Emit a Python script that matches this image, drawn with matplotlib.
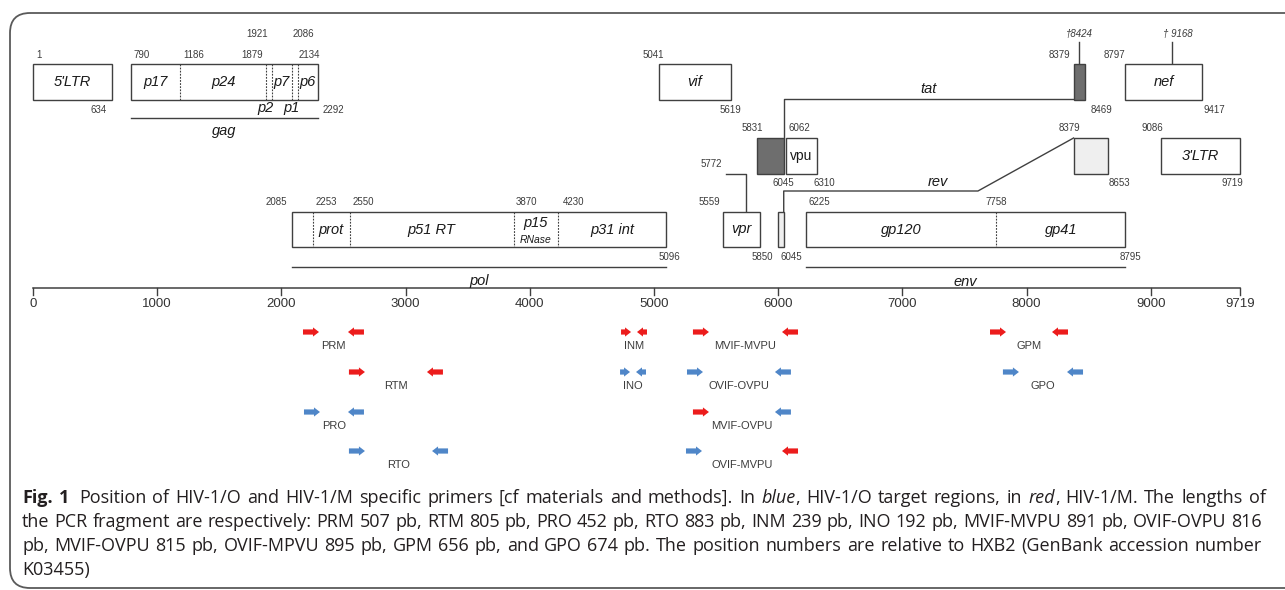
import matplotlib
matplotlib.use("Agg")
import matplotlib.pyplot as plt
from matplotlib.patches import Rectangle, Polygon, FancyBboxPatch

# ------------------------------------------------------------------ data
GENOME_LEN = 9719
axis_ticks = [0, 1000, 2000, 3000, 4000, 5000, 6000, 7000, 8000, 9000, 9719]

box_names = ["5'LTR", "gag", "vif", "tat2", "nef", "tat1", "vpu", "rev2", "3'LTR",
             "pol", "vpr", "rev1", "env"]
box_start = [1, 790, 5041, 8379, 8797, 5831, 6062, 8379, 9086, 2085, 5559, 6000, 6225]
box_end = [634, 2292, 5619, 8469, 9417, 6045, 6310, 8653, 9719, 5096, 5850, 6045, 8795]
box_row = [0, 0, 0, 0, 0, 1, 1, 1, 1, 2, 2, 2, 2]

gag_cuts = [1186, 1879, 1921, 2086, 2134]
pol_cuts = [2253, 2550, 3870, 4230]
env_cuts = [7758]

gag_parts = ["p17", "p24", "p7", "p6"]
gag_part_bounds = [(790, 1186), (1186, 1879), (1921, 2086), (2134, 2292)]
pol_parts = ["prot", "p51 RT", "p15", "p31 int"]
pol_part_bounds = [(2253, 2550), (2550, 3870), (3870, 4230), (4230, 5096)]
env_parts = ["gp120", "gp41"]
env_part_bounds = [(6225, 7758), (7758, 8795)]

stop_codons = [8424, 9168]
stop_labels = ["\u20208424", "\u2020 9168"]

primer_names = ["PRM", "RTM", "PRO", "RTO", "INM", "INO",
                "MVIF-MVPU", "OVIF-OVPU", "MVIF-OVPU", "OVIF-MVPU", "GPM", "GPO"]
primer_fwd_start = [2174, 2544, 2182, 2544, 4735, 4727, 5314, 5266, 5314, 5258, 7706, 7810]
primer_rev_end = [2665, 3301, 2665, 3342, 4944, 4936, 6160, 6103, 6103, 6160, 8334, 8455]
primer_fwd_type = ["M", "M", "O", "O", "M", "O", "M", "O", "M", "O", "M", "O"]
primer_rev_type = ["M", "M", "O", "O", "M", "O", "M", "O", "O", "M", "M", "O"]
primer_row = [0, 1, 2, 3, 0, 1, 0, 1, 2, 3, 0, 1]

# ------------------------------------------------------------------ style
W, H = 1285, 590
s = 1207.0 / 9719.0          # pixels per base
P = 1.0 / s                  # bases per pixel
LINE = "#404040"
NUMC = "#3c3c3c"
TXT = "#1a1a1a"
RED = "#ec1c1c"
BLUE = "#4f86c8"
type_color = {"M": RED, "O": BLUE}
row_y = [(64, 100), (138, 174), (212, 247)]
fills = {"tat1": "#6e6e6e", "tat2": "#6e6e6e", "rev1": "#efefef", "rev2": "#efefef"}
NUMFONT = "Liberation Sans"

fig = plt.figure(figsize=(W / 100, H / 100), dpi=100)
bg = fig.add_axes([0, 0, 1, 1])
bg.set_xlim(0, W)
bg.set_ylim(H, 0)
bg.axis("off")
ax = fig.add_axes([0, 0, 1, 1])
ax.patch.set_alpha(0)
ax.set_xlim(-33 * P, (W - 33) * P)
ax.set_ylim(H, 0)
ax.axis("off")

# outer rounded frame
bg.add_patch(FancyBboxPatch((10, 13), 1320, 575, boxstyle="round,pad=0,rounding_size=20",
                            fill=False, ec="#5a5a5a", lw=1.3, clip_on=False))

# ------------------------------------------------------------------ boxes
for name, a, b, r in zip(box_names, box_start, box_end, box_row):
    y0, y1 = row_y[r]
    ax.add_patch(Rectangle((a, y0), b - a, y1 - y0, fc=fills.get(name, "white"),
                           ec=LINE, lw=1.0, zorder=3))
    yc = (y0 + y1) / 2
    if name in ("5'LTR", "3'LTR", "vif", "nef", "vpr"):
        ax.text((a + b) / 2, yc, name, ha="center", va="center", fontsize=10.5,
                style="italic", family="Liberation Sans", color=TXT, zorder=4)
    elif name == "vpu":
        ax.text((a + b) / 2, yc, name, ha="center", va="center", fontsize=10,
                family="Liberation Sans", color=TXT, zorder=4)

dash = dict(color=LINE, lw=0.8, ls=(0, (1.6, 1.2)), zorder=4)
for c in gag_cuts:
    ax.plot([c, c], row_y[0], **dash)
for c in pol_cuts:
    ax.plot([c, c], row_y[2], **dash)
for c in env_cuts:
    ax.plot([c, c], row_y[2], **dash)

it = dict(ha="center", va="center", style="italic", family="Liberation Sans", color=TXT, zorder=4)
for t, (a, b) in zip(gag_parts, gag_part_bounds):
    ax.text((a + b) / 2, 82, t, fontsize=10.5, **it)
for t, (a, b) in zip(pol_parts, pol_part_bounds):
    if t == "p15":
        ax.text((a + b) / 2, 223, t, fontsize=10.5, **it)
        ax.text((a + b) / 2, 240, "RNase", fontsize=7.5, **it)
    else:
        ax.text((a + b) / 2, 230, t, fontsize=10.5, **it)
for t, (a, b) in zip(env_parts, env_part_bounds):
    ax.text((a + b) / 2, 230, t, fontsize=10.5, **it)

# p2 / p1 under gag
ax.text((1879 + 1921) / 2 - 3 * P, 108, "p2", fontsize=10.5, **it)
ax.text((2086 + 2134) / 2 - 4 * P, 108, "p1", fontsize=10.5, **it)

# polyprotein underlines
lk = dict(color=LINE, lw=1.0)
ax.plot([790, 2292], [118, 118], **lk)
ax.text((790 + 2292) / 2, 131, "gag", fontsize=10.5, **it)
ax.plot([2085, 5096], [267, 267], **lk)
ax.text((2085 + 5096) / 2, 281, "pol", fontsize=10.5, **it)
ax.plot([6225, 8795], [267, 267], **lk)
ax.text((6225 + 8795) / 2, 282, "env", fontsize=10.5, **it)

# tat splice connector
ax.plot([6045, 6045, 8379], [138, 99, 99], **lk)
ax.text((6045 + 8379) / 2, 89, "tat", fontsize=10.5, **it)
# rev splice connector
ax.plot([6045, 6045, 7609, 8379], [212, 191, 191, 138], **lk)
ax.text(7287, 182, "rev", fontsize=10.5, **it)
# vpr connector
ax.plot([5580, 5741, 5741], [174, 174, 212], **lk)

# stop codons
for pos, lab, dx in zip(stop_codons, stop_labels, [0, 6]):
    ax.plot([pos, pos], [64, 42], **lk)
    ax.text(pos + dx * P, 34, lab, ha="center", va="center", fontsize=7,
            style="italic", family=NUMFONT, color=NUMC)

# position numbers
pos_labels = [
    ("1", 1, 55, 3, "left"), ("634", 634, 110, -5, "right"),
    ("790", 790, 55, 2, "left"), ("1186", 1186, 55, 3, "left"),
    ("1879", 1879, 55, -3, "right"), ("1921", 1921, 34, -4, "right"),
    ("2086", 2086, 34, 1, "left"), ("2134", 2134, 55, 1, "left"),
    ("2292", 2292, 110, 5, "left"), ("5041", 5041, 55, -6, "center"),
    ("5619", 5619, 110, 0, "center"), ("8379", 8379, 55, -3, "right"),
    ("8469", 8469, 110, 6, "left"), ("8797", 8797, 55, 0, "right"),
    ("9417", 9417, 110, 1, "left"), ("5831", 5831, 128, -5, "center"),
    ("6062", 6062, 128, 3, "left"), ("8379", 8379, 128, -4, "center"),
    ("9086", 9086, 128, -9, "center"), ("6045", 6045, 183, 0, "center"),
    ("6310", 6310, 183, 8, "center"), ("8653", 8653, 183, 12, "center"),
    ("9719", 9719, 183, -8, "center"), ("2085", 2085, 202, -5, "right"),
    ("2253", 2253, 202, 3, "left"), ("2550", 2550, 202, 3, "left"),
    ("3870", 3870, 202, 2, "left"), ("4230", 4230, 202, 4, "left"),
    ("5096", 5096, 257, 4, "center"), ("5772", 5772, 164, -28, "right"),
    ("5559", 5559, 202, -3, "right"), ("5850", 5850, 257, 3, "center"),
    ("6045", 6045, 257, -3, "left"), ("6225", 6225, 202, 2, "left"),
    ("7758", 7758, 202, 0, "center"), ("8795", 8795, 257, 5, "center"),
]
for t, v, y, dx, ha in pos_labels:
    ax.text(v + dx * P, y, t, ha=ha, va="center", fontsize=7, family=NUMFONT, color=NUMC)

# ------------------------------------------------------------------ scale axis
AY = 288
ax.plot([0, GENOME_LEN], [AY, AY], color=LINE, lw=1.1)
for t in axis_ticks:
    ax.plot([t, t], [AY, AY + 7], color=LINE, lw=1.0)
    ax.text(t, 304, str(t), ha="center", va="center", fontsize=9.5,
            family="Liberation Sans", color="#333333")

# ------------------------------------------------------------------ primers
prow_y = [332, 372, 412, 451]


def arrow(x_tail, direction, y, length_px, color):
    L = length_px * P
    hd = 6 * P
    sh, hh = 2.6, 4.6
    d = direction
    pts = [(x_tail, y - sh), (x_tail + d * (L - hd), y - sh), (x_tail + d * (L - hd), y - hh),
           (x_tail + d * L, y), (x_tail + d * (L - hd), y + hh), (x_tail + d * (L - hd), y + sh),
           (x_tail, y + sh)]
    ax.add_patch(Polygon(pts, closed=True, fc=color, ec="none", zorder=5))


for name, fs_, re_, ft, rt, r in zip(primer_names, primer_fwd_start, primer_rev_end,
                                     primer_fwd_type, primer_rev_type, primer_row):
    y = prow_y[r]
    ln = 10 if name.startswith("IN") else 16
    arrow(fs_, +1, y, ln, type_color[ft])
    arrow(re_, -1, y, ln, type_color[rt])
    ax.text((fs_ + re_) / 2, y + 14, name, ha="center", va="center", fontsize=8,
            family="Liberation Sans", color="#3c3c3c")

# ------------------------------------------------------------------ caption
CAPFONT = "Open Sans"
CAPC = "#231f20"
cap_lines = [
    [("Fig. 1", "bold"), ("  Position of HIV-1/O and HIV-1/M specific primers [cf materials and methods]. In ", "normal"),
     ("blue", "italic"), (", HIV-1/O target regions, in ", "normal"), ("red", "italic"),
     (", HIV-1/M. The lengths of", "normal")],
    [("the PCR fragment are respectively: PRM 507 pb, RTM 805 pb, PRO 452 pb, RTO 883 pb, INM 239 pb, "
      "INO 192 pb, MVIF-MVPU 891 pb, OVIF-OVPU 816", "normal")],
    [("pb, MVIF-OVPU 815 pb, OVIF-MPVU 895 pb, GPM 656 pb, and GPO 674 pb. The position numbers are "
      "relative to HXB2 (GenBank accession number", "normal")],
    [("K03455)", "normal")],
]
cap_y = [498, 522, 546, 570]
X0, X1 = 22, 1262

renderer = fig.canvas.get_renderer()


def tokenize(segments):
    words = [[]]
    for text, st in segments:
        parts = text.split(" ")
        for i, p in enumerate(parts):
            if i > 0:
                words.append([])
            if p:
                words[-1].append((p, st))
    return [w for w in words if w]


def props(st):
    d = dict(family=CAPFONT, color=CAPC)
    if st == "bold":
        d["weight"] = "bold"
    elif st == "italic":
        d["style"] = "italic"
    return d


def measure(text, st, fs):
    t = bg.text(0, 0, text, fontsize=fs, **props(st))
    w = t.get_window_extent(renderer).width
    t.remove()
    return w


# fit font size on the second line
base = 10.0
natural = bg.text(0, 0, cap_lines[1][0][0], fontsize=base, family=CAPFONT)
wnat = natural.get_window_extent(renderer).width
natural.remove()
cap_fs = base * (X1 - X0) / wnat

for segs, y, justify in zip(cap_lines, cap_y, [True, True, True, False]):
    words = tokenize(segs)
    widths = [[measure(p, st, cap_fs) for p, st in w] for w in words]
    tot = sum(sum(w) for w in widths)
    space = measure("a a", "normal", cap_fs) - 2 * measure("a", "normal", cap_fs)
    gap = (X1 - X0 - tot) / (len(words) - 1) if (justify and len(words) > 1) else space
    x = X0
    for wi, (w, ws) in enumerate(zip(words, widths)):
        for (p, st), pw in zip(w, ws):
            bg.text(x, y, p, fontsize=cap_fs, ha="left", va="center", **props(st))
            x += pw
        x += gap
        if wi == 1 and segs[0][1] == "bold":
            x += space * 0.8

fig.savefig("out.png", dpi=100)
